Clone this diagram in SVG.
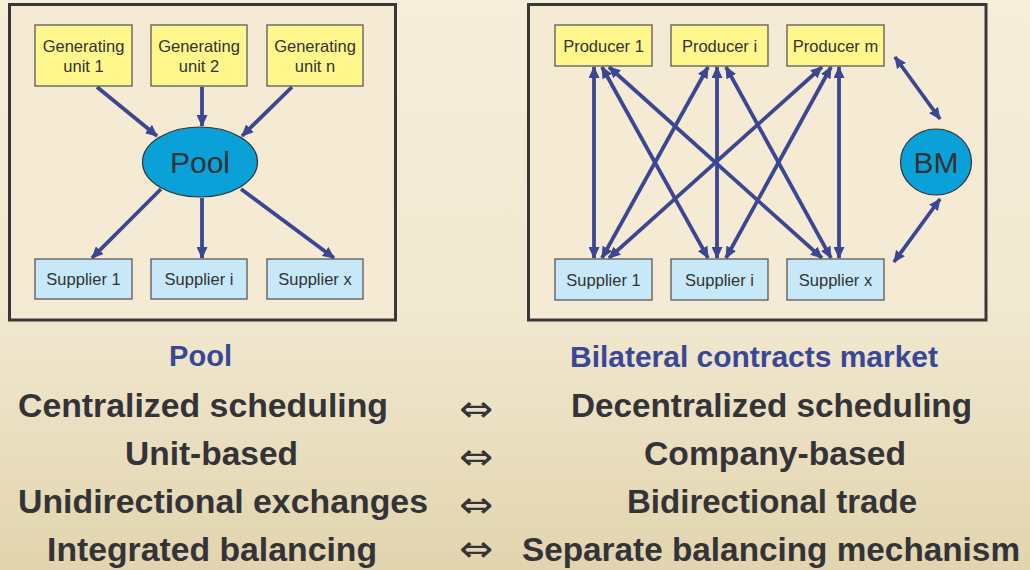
<svg xmlns="http://www.w3.org/2000/svg" width="1030" height="570" viewBox="0 0 1030 570">
<defs>
<linearGradient id="bg" x1="0" y1="0" x2="0" y2="1">
<stop offset="0" stop-color="#f6eedb"/>
<stop offset="0.55" stop-color="#f1e8d0"/>
<stop offset="1" stop-color="#e2d4ae"/>
</linearGradient>
<marker id="ah" viewBox="0 0 12 11" refX="11" refY="5.5" markerWidth="12" markerHeight="11" markerUnits="userSpaceOnUse" orient="auto-start-reverse">
<path d="M0,0 L12,5.5 L0,11 z" fill="#3b4792"/>
</marker>
<style>
.frame{fill:#f5ebd4;stroke:#383838;stroke-width:3}
.gen{fill:#fff68c;stroke:#5a5a5a;stroke-width:1.3}
.sup{fill:#c6e8f8;stroke:#5a5a5a;stroke-width:1.3}
.ell{fill:#0aa0d8;stroke:#333;stroke-width:1.2}
.nt{font-family:"Liberation Sans",Arial,sans-serif;font-size:16.5px;fill:#333;text-anchor:middle}
.big{font-family:"Liberation Sans",Arial,sans-serif;font-size:30px;fill:#333;text-anchor:middle}
.c{stroke:#3b4792;stroke-width:3.8;fill:none}
.one{marker-end:url(#ah)}
.two{marker-start:url(#ah);marker-end:url(#ah)}
.hd{font-family:"Liberation Sans",Arial,sans-serif;font-weight:bold;font-size:30px;fill:#3a4797}
.rw{font-family:"Liberation Sans",Arial,sans-serif;font-weight:bold;font-size:34px;fill:#333338}
.eq{font-family:"DejaVu Sans",sans-serif;font-size:36px;fill:#333338;text-anchor:middle}
</style>
</defs>
<rect x="0" y="0" width="1030" height="570" fill="url(#bg)"/>
<rect class="frame" x="9.5" y="4.5" width="386" height="315.5"/>
<rect class="frame" x="528.5" y="4.5" width="457.5" height="315.5"/>

<g id="connectors">
<line class="c one" x1="97" y1="87" x2="157" y2="136"/>
<line class="c one" x1="202" y1="87" x2="202" y2="126"/>
<line class="c one" x1="292" y1="87" x2="242" y2="136"/>
<line class="c one" x1="161" y1="189" x2="92" y2="258"/>
<line class="c one" x1="202" y1="198" x2="202" y2="258"/>
<line class="c one" x1="241" y1="189" x2="334" y2="258"/>

<line class="c two" x1="594" y1="67" x2="594" y2="258"/>
<line class="c two" x1="602" y1="67" x2="708" y2="258"/>
<line class="c two" x1="609" y1="67" x2="822" y2="258"/>
<line class="c two" x1="708" y1="67" x2="602" y2="258"/>
<line class="c two" x1="717" y1="67" x2="717" y2="258"/>
<line class="c two" x1="726" y1="67" x2="831" y2="258"/>
<line class="c two" x1="822" y1="67" x2="609" y2="258"/>
<line class="c two" x1="831" y1="67" x2="726" y2="258"/>
<line class="c two" x1="839" y1="67" x2="839" y2="258"/>
<line class="c two" x1="895" y1="57" x2="940" y2="119"/>
<line class="c two" x1="940" y1="199" x2="894" y2="262"/>
</g>

<g id="gen1"><rect class="gen" x="35" y="25" width="97" height="61"/><text class="nt" x="83.5" y="52">Generating</text><text class="nt" x="83.5" y="72">unit 1</text></g>
<g id="gen2"><rect class="gen" x="151" y="25" width="96" height="61"/><text class="nt" x="199" y="52">Generating</text><text class="nt" x="199" y="72">unit 2</text></g>
<g id="genn"><rect class="gen" x="267" y="25" width="96" height="61"/><text class="nt" x="315" y="52">Generating</text><text class="nt" x="315" y="72">unit n</text></g>
<g id="pool"><ellipse class="ell" cx="200" cy="162" rx="57.5" ry="35"/><text class="big" x="200" y="173">Pool</text></g>
<g id="sup1"><rect class="sup" x="35" y="259" width="97" height="40"/><text class="nt" x="83.5" y="285">Supplier 1</text></g>
<g id="supi"><rect class="sup" x="151" y="259" width="96" height="40"/><text class="nt" x="199" y="285">Supplier i</text></g>
<g id="supx"><rect class="sup" x="267" y="259" width="96" height="40"/><text class="nt" x="315" y="285">Supplier x</text></g>

<g id="prod1"><rect class="gen" x="555" y="25" width="97" height="41"/><text class="nt" x="603.5" y="51.5">Producer 1</text></g>
<g id="prodi"><rect class="gen" x="671" y="25" width="97" height="41"/><text class="nt" x="719.5" y="51.5">Producer i</text></g>
<g id="prodm"><rect class="gen" x="787" y="25" width="97" height="41"/><text class="nt" x="835.5" y="51.5">Producer m</text></g>
<g id="rsup1"><rect class="sup" x="555" y="259" width="97" height="41"/><text class="nt" x="603.5" y="286">Supplier 1</text></g>
<g id="rsupi"><rect class="sup" x="671" y="259" width="97" height="41"/><text class="nt" x="719.5" y="286">Supplier i</text></g>
<g id="rsupx"><rect class="sup" x="787" y="259" width="97" height="41"/><text class="nt" x="835.5" y="286">Supplier x</text></g>
<g id="bm"><ellipse class="ell" cx="936" cy="162" rx="35.5" ry="33"/><text class="big" x="936" y="173">BM</text></g>

<g id="comparison">
<text class="hd" x="169" y="366" textLength="63" lengthAdjust="spacingAndGlyphs">Pool</text>
<text class="hd" x="570" y="367" textLength="368" lengthAdjust="spacingAndGlyphs">Bilateral contracts market</text>
<text class="rw" x="18" y="417" textLength="370" lengthAdjust="spacingAndGlyphs">Centralized scheduling</text>
<text class="rw" x="125" y="465" textLength="173" lengthAdjust="spacingAndGlyphs">Unit-based</text>
<text class="rw" x="18" y="513" textLength="410" lengthAdjust="spacingAndGlyphs">Unidirectional exchanges</text>
<text class="rw" x="47" y="561" textLength="330" lengthAdjust="spacingAndGlyphs">Integrated balancing</text>
<text class="eq" x="476" y="421" textLength="34" lengthAdjust="spacingAndGlyphs">⇔</text>
<text class="eq" x="476" y="469" textLength="34" lengthAdjust="spacingAndGlyphs">⇔</text>
<text class="eq" x="476" y="517" textLength="34" lengthAdjust="spacingAndGlyphs">⇔</text>
<text class="eq" x="476" y="561" textLength="34" lengthAdjust="spacingAndGlyphs">⇔</text>
<text class="rw" x="571" y="417" textLength="401" lengthAdjust="spacingAndGlyphs">Decentralized scheduling</text>
<text class="rw" x="644" y="465" textLength="262" lengthAdjust="spacingAndGlyphs">Company-based</text>
<text class="rw" x="627" y="513" textLength="290" lengthAdjust="spacingAndGlyphs">Bidirectional trade</text>
<text class="rw" x="522" y="561" textLength="498" lengthAdjust="spacingAndGlyphs">Separate balancing mechanism</text>
</g>
</svg>
